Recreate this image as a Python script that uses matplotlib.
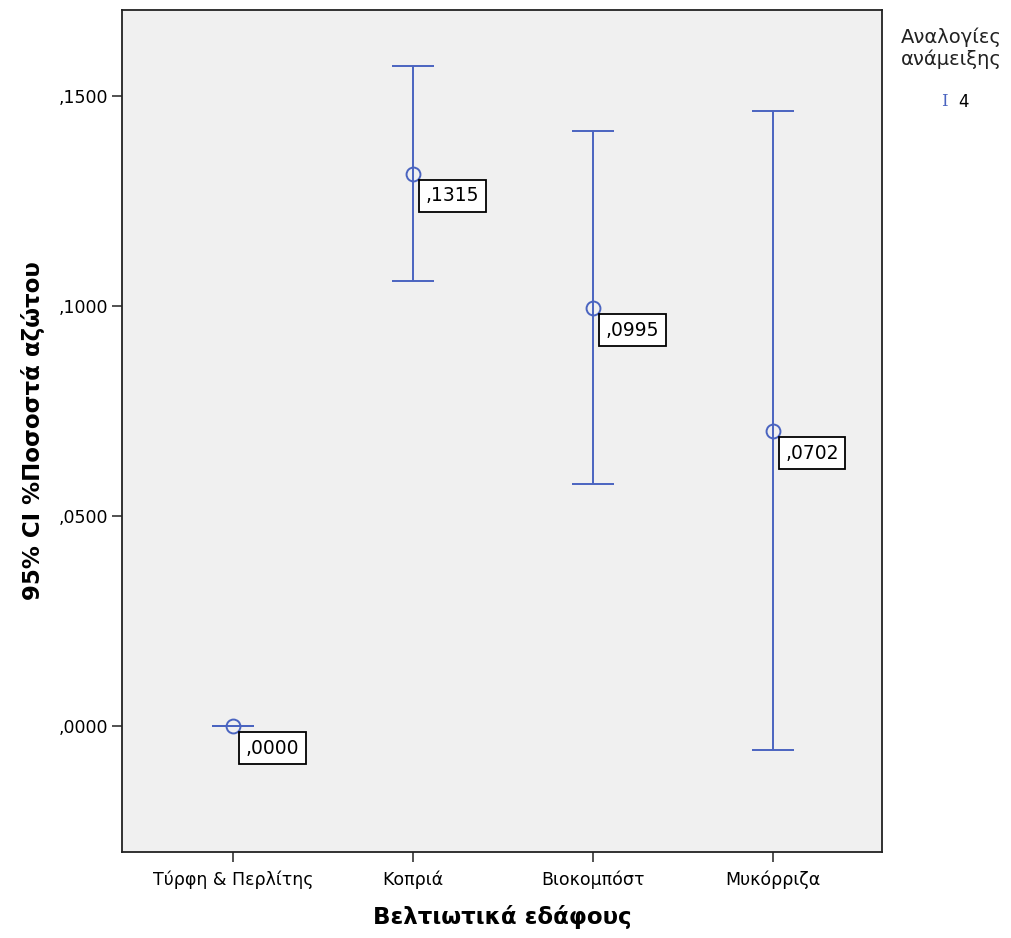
import matplotlib
matplotlib.use('Agg')
from matplotlib import pyplot as plt
from matplotlib.ticker import FuncFormatter

# data (mean and 95% CI)
categories = ['Τύρφη & Περλίτης', 'Κοπριά', 'Βιοκομπόστ', 'Μυκόρριζα']
means = [0.0000, 0.1315, 0.0995, 0.0702]
ci_low = [0.0000, 0.1060, 0.0576, -0.0057]
ci_high = [0.0000, 0.1571, 0.1417, 0.1464]
y_ticks = [0.0, 0.05, 0.10, 0.15]
legend_title = 'Αναλογίες\nανάμειξης'
legend_group = '4'

blue = '#4a64c0'

plt.rcParams['font.family'] = ['DejaVu Sans']


def comma_fmt(v):
    # SPSS style: comma decimal separator, no leading zero
    return '{:.4f}'.format(v).lstrip('0').replace('.', ',')


fig = plt.figure(figsize=(10.12, 9.38), dpi=100)
ax = fig.add_axes([0.1206, 0.0917, 0.7509, 0.8976])
ax.set_facecolor('#f0f0f0')

xs = list(range(len(categories)))
err_lo = [m - l for m, l in zip(means, ci_low)]
err_hi = [h - m for m, h in zip(means, ci_high)]
ax.errorbar(xs, means, yerr=[err_lo, err_hi], fmt='o', color=blue,
            mfc='none', mec=blue, ms=10, mew=1.4, elinewidth=1.4,
            capsize=15, capthick=1.4)

for x, m in zip(xs, means):
    ax.annotate(comma_fmt(m), (x, m), xytext=(9, -9), textcoords='offset points',
                ha='left', va='top', fontsize=13.5,
                bbox=dict(boxstyle='square,pad=0.35', fc='white',
                          ec='black', lw=1.3))

ax.set_xlim(-0.617, 3.606)
ax.set_ylim(-0.0300, 0.1705)
ax.set_xticks(xs)
ax.set_xticklabels(categories)
ax.set_yticks(y_ticks)
ax.yaxis.set_major_formatter(FuncFormatter(lambda v, p: comma_fmt(v)))
ax.tick_params(axis='both', direction='out', length=7, width=1.2, labelsize=12.5,
               color='#333333')
ax.tick_params(axis='y', pad=3)
ax.tick_params(axis='x', pad=6)
for s in ax.spines.values():
    s.set_linewidth(1.3)
    s.set_color('#222222')

ax.set_xlabel('Βελτιωτικά εδάφους', fontsize=16.5, fontweight='bold', labelpad=12)
ax.set_ylabel('95% CI %Ποσοστά αζώτου', fontsize=16.5, fontweight='bold', labelpad=10)

# legend drawn by hand to match the SPSS style
fig.text(0.940, 0.949, legend_title, ha='center', va='center', fontsize=14,
         color='#222222', linespacing=1.15)
fig.text(0.933, 0.892, 'I', ha='center', va='center', fontsize=12,
         family='DejaVu Serif', color=blue)
fig.text(0.952, 0.891, legend_group, ha='center', va='center', fontsize=12)

fig.savefig('out.png', dpi=100)
